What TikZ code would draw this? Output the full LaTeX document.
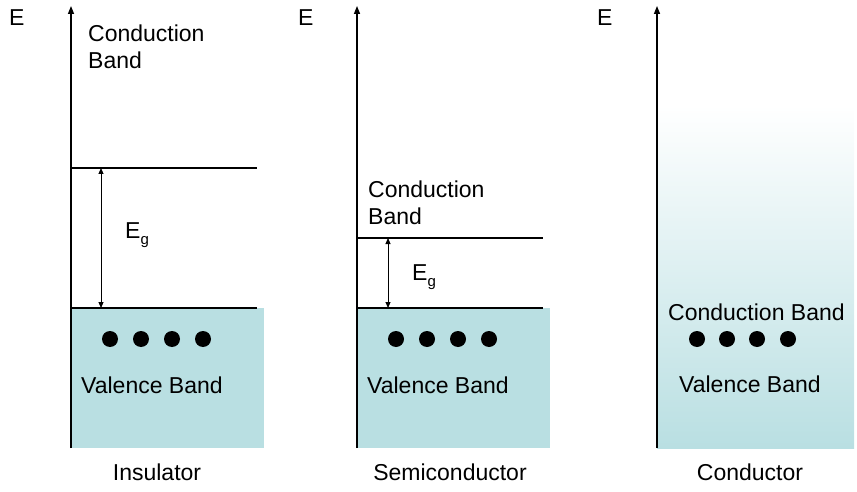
\documentclass[tikz,border=0pt]{standalone}
\usepackage{fontspec}
\setmainfont{Liberation Sans}
\usetikzlibrary{arrows.meta}
\definecolor{bandblue}{HTML}{B9DFE2}
\newcommand{\gapE}{E\raisebox{-6pt}{\fontsize{15}{15}\selectfont g}}
\tikzset{
  axisarrow/.style={-{Triangle[length=8pt,width=6pt]}, line width=1.4pt, draw=black},
  gaparrow/.style={{Triangle[length=6pt,width=5pt]}-{Triangle[length=6pt,width=5pt]}, line width=1pt, draw=black},
  bandedge/.style={line width=1.1pt, draw=black},
  lbl/.style={font=\fontsize{23}{27}\selectfont, inner sep=0pt, align=left},
  electron/.style={circle, fill=black, minimum size=16pt, inner sep=0pt}
}

\begin{document}
\begin{tikzpicture}[x=1pt,y=-1pt]
  \useasboundingbox (0,0) rectangle (857,492);
  % band fills
  \fill[bandblue] (71,308) rectangle (264,448);
  \fill[bandblue] (357,308) rectangle (550,448);
  \shade[top color=white, bottom color=bandblue] (657,105) rectangle (854,448);

  % insulator
  \coordinate (insO) at (71,448);
  \coordinate (insTop) at (71,6);
  \coordinate (insCL) at (71,168);
  \coordinate (insCR) at (257,168);
  \coordinate (insVL) at (71,308);
  \coordinate (insVR) at (257,308);
  \coordinate (insGT) at (101,168);
  \coordinate (insGB) at (101,308);
  \node[lbl, anchor=base west] (insE) at (9,26) {E};
  \node[lbl, anchor=north west] (insCB) at (88,25) {Conduction\\Band};
  \node[lbl, anchor=base west] (insEg) at (125,238) {\gapE};
  \node[lbl, anchor=base west] (insVB) at (81,393) {Valence Band};
  \node[lbl, anchor=base] (insName) at (157,480) {Insulator};
  \foreach \i/\x in {1/110,2/141,3/172,4/203}
    \node[electron] (insD\i) at (\x,339) {};
  \draw[bandedge] (insCL) -- (insCR);
  \draw[bandedge] (insVL) -- (insVR);
  \draw[gaparrow] (insGB) -- (insGT);
  \draw[axisarrow] (insO) -- (insTop);

  % semiconductor
  \coordinate (semO) at (357,448);
  \coordinate (semTop) at (357,6);
  \coordinate (semCL) at (357,238);
  \coordinate (semCR) at (543,238);
  \coordinate (semVL) at (357,308);
  \coordinate (semVR) at (543,308);
  \coordinate (semGT) at (388,238);
  \coordinate (semGB) at (388,308);
  \node[lbl, anchor=base west] (semE) at (298,26) {E};
  \node[lbl, anchor=north west] (semCB) at (368,181) {Conduction\\Band};
  \node[lbl, anchor=base west] (semEg) at (412,280) {\gapE};
  \node[lbl, anchor=base west] (semVB) at (367,393) {Valence Band};
  \node[lbl, anchor=base] (semName) at (450,480) {Semiconductor};
  \foreach \i/\x in {1/396,2/427,3/458,4/489}
    \node[electron] (semD\i) at (\x,339) {};
  \draw[bandedge] (semCL) -- (semCR);
  \draw[bandedge] (semVL) -- (semVR);
  \draw[gaparrow] (semGB) -- (semGT);
  \draw[axisarrow] (semO) -- (semTop);

  % conductor
  \coordinate (conO) at (657,448);
  \coordinate (conTop) at (657,6);
  \node[lbl, anchor=base west] (conE) at (597,26) {E};
  \node[lbl, anchor=base west] (conCB) at (668,320) {Conduction Band};
  \node[lbl, anchor=base west] (conVB) at (679,392) {Valence Band};
  \node[lbl, anchor=base] (conName) at (750,480) {Conductor};
  \foreach \i/\x in {1/697,2/727,3/757,4/788}
    \node[electron] (conD\i) at (\x,339) {};
  \draw[axisarrow] (conO) -- (conTop);
\end{tikzpicture}
\end{document}
